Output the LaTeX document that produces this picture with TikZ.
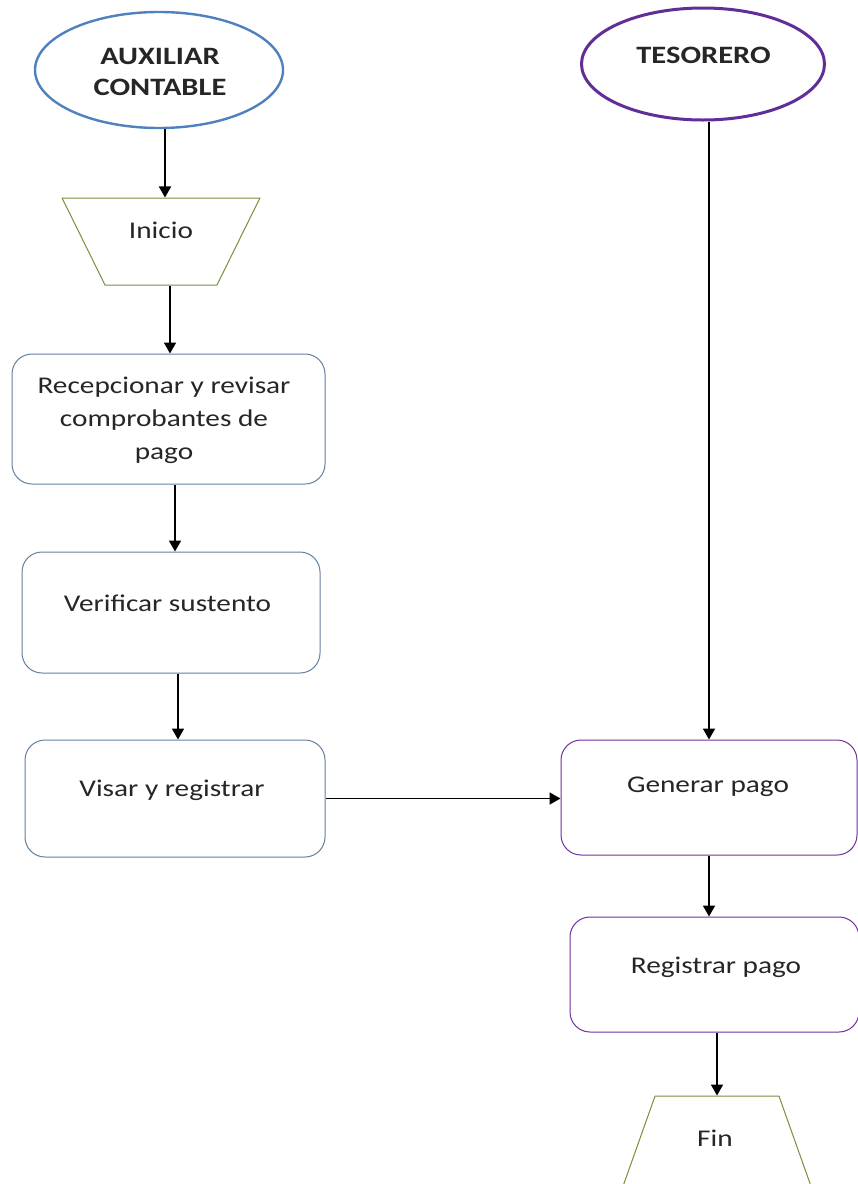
\documentclass[tikz,border=0pt]{standalone}
\usepackage{fontspec}
\setmainfont[FakeStretch=1.22]{Carlito}
\usetikzlibrary{shapes.geometric,arrows.meta}
\definecolor{auxblue}{RGB}{79,129,189}
\definecolor{boxblue}{RGB}{100,128,160}
\definecolor{termgreen}{RGB}{118,146,60}
\definecolor{tespurple}{RGB}{96,46,150}
\definecolor{boxpurple}{RGB}{112,48,160}
\definecolor{ink}{RGB}{38,38,38}
\tikzset{
  actor/.style={ellipse, draw, line width=2.4pt, fill=white},
  stepbox/.style={rectangle, rounded corners=20pt, draw, line width=1pt, fill=white},
  term/.style={trapezium, trapezium stretches=true, draw=termgreen, line width=1pt, fill=white},
  txt/.style={text=ink, align=center, font=\fontsize{24}{33}\selectfont, inner sep=0pt},
  head/.style={text=ink, align=center, font=\fontsize{25}{31}\selectfont\bfseries, inner sep=0pt},
  arr/.style={line width=1.8pt, -{Triangle[length=11pt,width=12pt]}}
}
\begin{document}
\begin{tikzpicture}[x=1pt,y=-1pt]
\useasboundingbox (0,0) rectangle (858,1184);
\clip (0,0) rectangle (858,1184);
\fill[white] (0,0) rectangle (858,1184);

% left lane: auxiliar contable
\node[actor, draw=auxblue, minimum width=248pt, minimum height=116pt] (aux) at (159,70) {};
\node[head] at (160,72) {AUXILIAR\\CONTABLE};

\node[term, shape border rotate=180, trapezium left angle=69, trapezium right angle=69,
      minimum width=198pt, minimum height=87pt] (inicio) at (161,241.5) {};
\node[txt] at (161,230) {Inicio};

\node[stepbox, draw=boxblue, minimum width=313pt, minimum height=130pt] (recep) at (168.5,419) {};
\node[txt] at (164,420) {Recepcionar y revisar\\comprobantes de\\pago};

\node[stepbox, draw=boxblue, minimum width=298pt, minimum height=121pt] (verif) at (171,612.5) {};
\node[txt] at (167.5,603) {Verificar sustento};

\node[stepbox, draw=boxblue, minimum width=300pt, minimum height=117pt] (visar) at (175,798.5) {};
\node[txt] at (172,790) {Visar y registrar};

% right lane: tesorero
\node[actor, draw=tespurple, line width=3pt, minimum width=243pt, minimum height=112pt] (tes) at (703,64) {};
\node[head] at (703.5,55) {TESORERO};

\node[stepbox, draw=boxpurple, minimum width=296pt, minimum height=115pt] (gen) at (709,797.5) {};
\node[txt] at (708,787) {Generar pago};

\node[stepbox, draw=boxpurple, minimum width=289pt, minimum height=115pt] (reg) at (714.5,974.5) {};
\node[txt] at (716,967) {Registrar pago};

\node[term, trapezium left angle=74, trapezium right angle=74,
      minimum width=195pt, minimum height=100pt] (fin) at (717,1146) {};
\node[txt] at (715,1138) {Fin};

% connectors
\draw[arr] ([xshift=6pt]aux.south) -- ([xshift=4pt]inicio.north);
\draw[arr] ([xshift=9pt]inicio.south) -- ([xshift=1.5pt]recep.north);
\draw[arr] ([xshift=6.5pt]recep.south) -- ([xshift=4pt]verif.north);
\draw[arr] ([xshift=7pt]verif.south) -- ([xshift=3pt]visar.north);
\draw[arr] (visar.east) -- (visar.east -| gen.west);
\draw[arr] (gen.north |- tes.south) -- (gen.north);
\draw[arr] (gen.south) -- (gen.south |- reg.north);
\draw[arr] (reg.south -| fin.north) -- (fin.north);
\end{tikzpicture}
\end{document}
